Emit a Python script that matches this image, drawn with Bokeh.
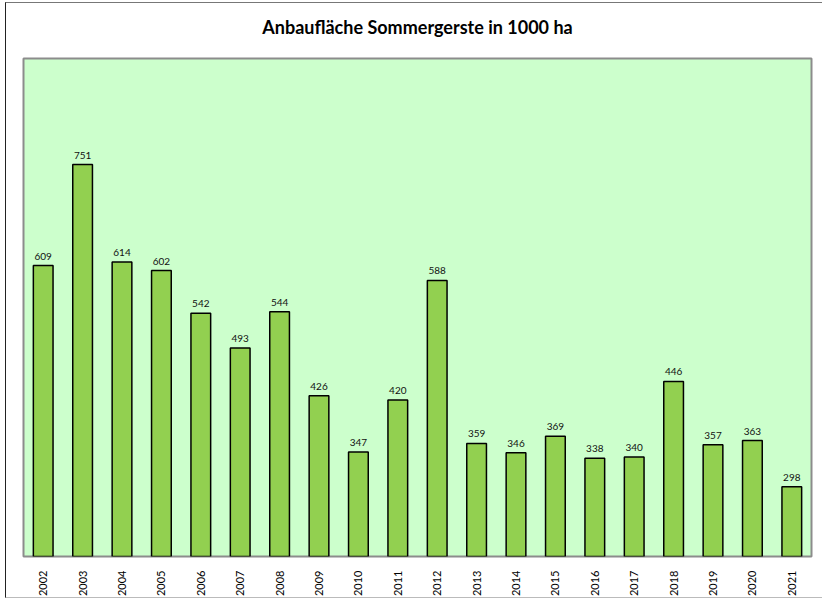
import math
from bokeh.plotting import figure
from bokeh.models import Range1d, ColumnDataSource, LabelSet, Title
from bokeh.core.properties import value
from bokeh.embed import file_html
from bokeh.resources import INLINE

years = ["2002", "2003", "2004", "2005", "2006", "2007", "2008", "2009", "2010", "2011",
         "2012", "2013", "2014", "2015", "2016", "2017", "2018", "2019", "2020", "2021"]
area = [609, 751, 614, 602, 542, 493, 544, 426, 347, 420,
        588, 359, 346, 369, 338, 340, 446, 357, 363, 298]
y_min = 200
y_max = 900
title_text = "Anbaufläche Sommergerste in 1000 ha"

src = ColumnDataSource(dict(year=years, area=area, label=[str(v) for v in area],
                            base=[y_min] * len(area)))

p = figure(x_range=years, y_range=Range1d(y_min, y_max), width=817, height=596,
           title=None, output_backend="svg", toolbar_location=None,
           min_border_left=17, min_border_right=12, min_border_top=55, min_border_bottom=42,
           background_fill_color="#CCFFCC", border_fill_color="white",
           outline_line_color="#8c8c8c", outline_line_width=2,
           styles={"margin-left": "5px", "margin-top": "2px",
                   "border-left": "1.5px solid #222222",
                   "border-top": "1px solid #777777",
                   "border-bottom": "1px solid #bbbbbb"})
p.x_range.range_padding = 0

# spacer panel between the frame and the title
p.add_layout(Title(text=" ", text_font_size="1px", standoff=17), "above")
p.add_layout(Title(text=title_text, align="center", vertical_align="middle", standoff=0,
                   text_font="Lato", text_font_style="bold", text_font_size="18px",
                   text_color="black"), "above")

p.vbar(x="year", top="area", bottom="base", width=0.5, source=src,
       fill_color="#92D050", line_color="black", line_width=1.5)

labels = LabelSet(x="year", y="area", text="label", source=src, text_align="center",
                  text_baseline="bottom", y_offset=6, text_font=value("Lato"),
                  text_font_size="10px", text_color="#111111")
p.add_layout(labels)

p.yaxis.visible = False
p.xgrid.grid_line_color = None
p.ygrid.grid_line_color = None
p.xaxis.axis_line_color = None
p.xaxis.major_tick_line_color = None
p.xaxis.minor_tick_line_color = None
p.xaxis.major_label_orientation = math.pi / 2
p.xaxis.major_label_standoff = 8
p.xaxis.major_label_text_font = "Lato"
p.xaxis.major_label_text_font_size = "11px"
p.xaxis.major_label_text_color = "black"

open("out.html", "w").write(file_html(p, INLINE))
